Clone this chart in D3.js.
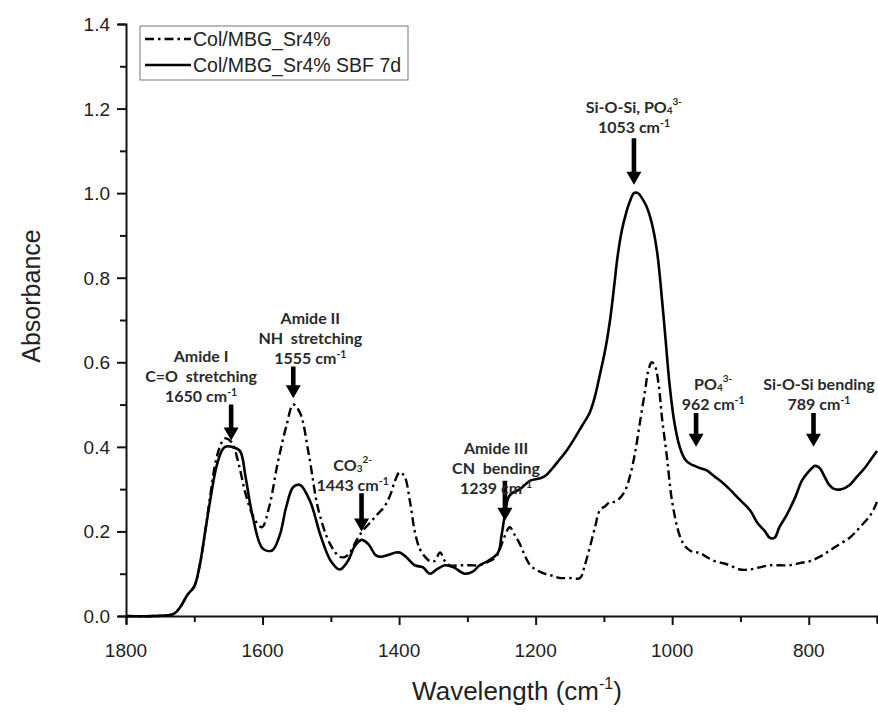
<!DOCTYPE html>
<html><head><meta charset="utf-8">
<script src="https://cdn.jsdelivr.net/npm/d3@7"></script>
<style>body{margin:0;background:#fff}svg{display:block}text{white-space:pre}</style>
</head><body>
<svg id="c" width="878" height="713"></svg>
<script>
// wavenumbers (cm-1) and absorbance
const sbfWave = [1800,1760,1730,1721,1710,1700,1692,1684,1677,1668,1660,1655,1645,1633,1625,1615,1600,1586,1575,1565,1555,1545,1530,1515,1500,1487,1475,1465,1455,1445,1435,1428,1415,1405,1399,1390,1377,1365,1355,1345,1333,1320,1304,1292,1282,1270,1255,1250,1245,1240,1235,1223,1208,1195,1187,1175,1165,1155,1143,1132,1121,1113,1106,1098,1091,1085,1080,1074,1068,1062,1056,1050,1045,1038,1030,1022,1015,1010,1004,997,989,981,974,967,960,950,938,926,916,901,886,875,864,857,850,843,832,820,810,801,795,791,784,777,770,762,752,740,729,718,709,700];
const sbfAbs  = [0.00,0.00,0.005,0.02,0.05,0.07,0.12,0.20,0.27,0.35,0.39,0.40,0.40,0.39,0.33,0.24,0.16,0.155,0.19,0.26,0.305,0.31,0.27,0.19,0.13,0.11,0.13,0.165,0.18,0.17,0.145,0.14,0.145,0.15,0.15,0.14,0.12,0.115,0.10,0.11,0.12,0.115,0.10,0.105,0.12,0.13,0.15,0.19,0.24,0.28,0.29,0.30,0.32,0.325,0.33,0.35,0.37,0.39,0.42,0.45,0.48,0.52,0.57,0.63,0.70,0.78,0.85,0.91,0.95,0.98,1.00,1.00,0.99,0.97,0.93,0.86,0.75,0.66,0.55,0.46,0.40,0.37,0.36,0.355,0.35,0.345,0.33,0.315,0.30,0.275,0.25,0.22,0.20,0.185,0.185,0.21,0.24,0.28,0.32,0.34,0.35,0.355,0.35,0.33,0.31,0.30,0.30,0.31,0.33,0.35,0.37,0.39];
const sr4Wave = [1800,1760,1730,1721,1710,1700,1692,1684,1677,1668,1660,1655,1645,1635,1625,1612,1601,1590,1578,1565,1555,1545,1532,1518,1501,1487,1479,1472,1462,1454,1443,1432,1421,1412,1406,1399,1392,1384,1377,1370,1362,1355,1348,1340,1333,1326,1310,1296,1282,1267,1258,1252,1245,1238,1230,1223,1215,1208,1200,1187,1175,1165,1150,1135,1128,1121,1113,1106,1098,1091,1084,1076,1068,1062,1055,1048,1040,1035,1030,1025,1020,1015,1008,1000,989,981,974,967,960,950,938,926,916,901,886,872,857,843,828,813,798,784,769,755,740,725,709,700];
const sr4Abs  = [0.00,0.00,0.005,0.02,0.05,0.07,0.12,0.20,0.28,0.37,0.41,0.42,0.41,0.36,0.29,0.23,0.21,0.26,0.36,0.45,0.50,0.48,0.38,0.25,0.17,0.14,0.14,0.15,0.18,0.20,0.22,0.24,0.26,0.29,0.32,0.34,0.33,0.27,0.20,0.16,0.14,0.13,0.13,0.15,0.13,0.12,0.12,0.12,0.12,0.13,0.14,0.16,0.19,0.21,0.19,0.17,0.14,0.12,0.11,0.10,0.095,0.09,0.09,0.09,0.12,0.16,0.21,0.25,0.26,0.27,0.27,0.28,0.30,0.33,0.38,0.45,0.53,0.58,0.60,0.59,0.55,0.47,0.38,0.27,0.19,0.165,0.155,0.15,0.15,0.14,0.13,0.125,0.12,0.11,0.11,0.115,0.12,0.12,0.12,0.125,0.13,0.14,0.155,0.17,0.185,0.21,0.24,0.27];

const seriesNames = ["Col/MBG_Sr4%", "Col/MBG_Sr4% SBF 7d"];
const xTicks = [1800,1600,1400,1200,1000,800];
const yTicks = [0.0,0.2,0.4,0.6,0.8,1.0,1.2,1.4];

// annotations: arrow position (cm-1), arrow tip/top (absorbance), text lines
const annWave  = [1646,1555,1455,1245,1056,965,793];
const annTip   = [0.415,0.515,0.20,0.225,1.02,0.40,0.40];
const annTop   = [0.50,0.59,0.29,0.32,1.13,0.48,0.48];
const annTextX = [1690,1530,1468,1258,1056,940,785];
const annTextY = [0.60,0.69,0.343,0.383,1.19,0.535,0.535];
const annLines = [
  [["Amide I"],["C=O  stretching"],["1650 cm","-1"]],
  [["Amide II"],["NH  stretching"],["1555 cm","-1"]],
  [["CO","3","2-"],["1443 cm","-1"]],
  [["Amide III"],["CN  bending"],["1239 cm","-1"]],
  [["Si-O-Si, PO","4","3-"],["1053 cm","-1"]],
  [["PO","4","3-"],["962 cm","-1"]],
  [["Si-O-Si bending"],["789 cm","-1"]]
];

const svg = d3.select("#c");
const x = d3.scaleLinear().domain([1800,700]).range([126,877]);
const y = d3.scaleLinear().domain([0,1.4]).range([616,24]);

// axes
const gx = svg.append("g").attr("transform","translate(0,616)")
  .call(d3.axisBottom(x).tickValues(d3.range(1800,699,-100)).tickSize(8).tickFormat(""));
gx.selectAll(".tick line").attr("y2", d=> d%200===0 ? 9 : 6);
gx.append("g").selectAll("text").data(xTicks).join("text")
  .attr("x", d=>x(d)).attr("y", 41).attr("text-anchor","middle")
  .attr("font-family","Liberation Sans, Arial").attr("font-size",19).attr("fill","#222").text(d=>d);
const gy = svg.append("g").attr("transform","translate(126,0)")
  .call(d3.axisLeft(y).tickValues(d3.range(0,1.41,0.1)).tickSize(8).tickFormat(""));
gy.selectAll(".tick line").attr("x2", (d,i)=> i%2===0 ? -9 : -6);
gy.append("g").selectAll("text").data(yTicks).join("text")
  .attr("x", -16).attr("y", d=>y(d)+7).attr("text-anchor","end")
  .attr("font-family","Liberation Sans, Arial").attr("font-size",19).attr("fill","#222").text(d=>d.toFixed(1));
svg.selectAll(".domain").attr("stroke","#111").attr("stroke-width",2);
svg.selectAll(".tick line").attr("stroke","#111").attr("stroke-width",2);

// axis titles
svg.append("text").attr("transform","translate(40,296) rotate(-90)").attr("text-anchor","middle")
  .attr("font-family","Liberation Sans, Arial").attr("font-size",25).attr("fill","#222").text("Absorbance");
const xt = svg.append("text").attr("x",517).attr("y",700).attr("text-anchor","middle")
  .attr("font-family","Liberation Sans, Arial").attr("font-size",26).attr("fill","#222");
xt.append("tspan").text("Wavelength (cm");
xt.append("tspan").attr("font-size",16).attr("dy",-11).text("-1");
xt.append("tspan").attr("dy",11).text(")");

// curves
const line = d3.line().x(d=>x(d[0])).y(d=>y(d[1])).curve(d3.curveCatmullRom.alpha(0.5));
const sbf = sbfWave.map((w,i)=>[w,sbfAbs[i]]);
const sr4 = sr4Wave.map((w,i)=>[w,sr4Abs[i]]);
svg.append("path").datum(sbf).attr("d",line).attr("fill","none").attr("stroke","#000").attr("stroke-width",2.6);
svg.append("path").datum(sr4).attr("d",line).attr("fill","none").attr("stroke","#000").attr("stroke-width",2.4)
  .attr("stroke-dasharray","9,4,2.5,4");

// legend
const lg = svg.append("g");
lg.append("rect").attr("x",140).attr("y",26).attr("width",268).attr("height",54).attr("fill","#fff").attr("stroke","#777").attr("stroke-width",1);
const lstyles = ["9,4,2.5,4", null];
seriesNames.forEach((n,i)=>{
  const yy = 39 + i*26;
  lg.append("line").attr("x1",145).attr("x2",191).attr("y1",yy).attr("y2",yy).attr("stroke","#000").attr("stroke-width",2.6)
    .attr("stroke-dasharray", lstyles[i]);
  lg.append("text").attr("x",193).attr("y",yy+7).attr("font-family","Liberation Sans, Arial").attr("font-size",19.5).attr("fill","#222").text(n);
});

// annotations
const ag = svg.append("g");
annWave.forEach((w,i)=>{
  const ax = x(w), yTip = y(annTip[i]), yTop = y(annTop[i]);
  const hh = 13, hw = 7.5, sw = 2.3;
  ag.append("path").attr("fill","#000")
    .attr("d",`M${ax-sw},${yTop} L${ax+sw},${yTop} L${ax+sw},${yTip-hh} L${ax+hw},${yTip-hh} L${ax},${yTip} L${ax-hw},${yTip-hh} L${ax-sw},${yTip-hh} Z`);
  const tx = x(annTextX[i]);
  annLines[i].forEach((ln,j)=>{
    const t = ag.append("text").attr("x",tx).attr("y",y(annTextY[i])+j*20).attr("text-anchor","middle")
      .attr("font-family","Lato, Open Sans, sans-serif").attr("font-weight","bold").attr("font-size",16).attr("fill","#2a2a2a");
    t.append("tspan").text(ln[0]);
    if (ln.length===2) {
      t.append("tspan").attr("font-size",10.5).attr("dy",-6).text(ln[1]);
    } else if (ln.length===3) {
      t.append("tspan").attr("font-size",10).attr("dy",1.5).text(ln[1]);
      t.append("tspan").attr("font-size",10).attr("dy",-9).text(ln[2]);
    }
  });
});
</script>
</body></html>
